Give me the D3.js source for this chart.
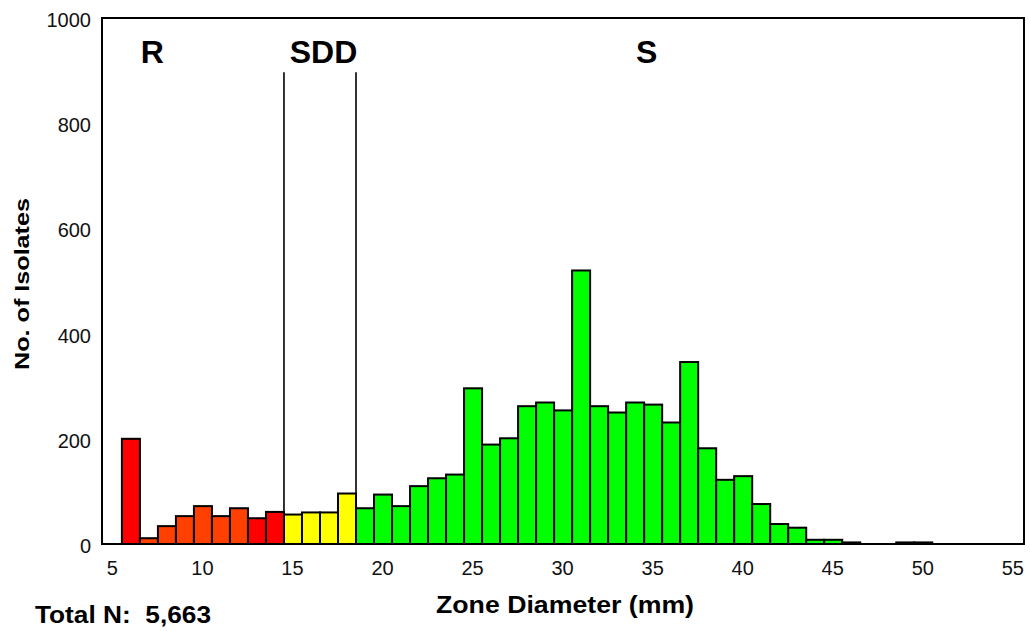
<!DOCTYPE html>
<html>
<head>
<meta charset="utf-8">
<script src="https://cdn.jsdelivr.net/npm/d3@7"></script>
<style>
  html, body { margin: 0; padding: 0; background: #fff; }
  svg { display: block; font-family: "Liberation Sans", Arial, sans-serif; }
</style>
</head>
<body>
<svg id="chart" width="1030" height="631"></svg>
<script>
// ---- data ----
const zones  = [6,7,8,9,10,11,12,13,14,15,16,17,18,19,20,21,22,23,24,25,26,27,28,29,30,
                31,32,33,34,35,36,37,38,39,40,41,42,43,44,45,46,47,48,49,50];
const counts = [200,11,34,53,72,53,68,49,61,56,60,60,96,68,94,72,110,125,132,296,189,201,262,269,254,
                520,262,250,269,265,231,346,182,122,129,76,38,31,8,8,3,0,0,3,3];
const xTicks = [5,10,15,20,25,30,35,40,45,50,55];
const yTicks = [0,200,400,600,800,1000];
const breakpoints = [14.5, 18.5];
const categoryLabels = ["R", "SDD", "S"];
const categoryPos = [7.25, 16.75, 34.7];
const totalN = "5,663";

// ---- layout ----
const svg = d3.select("#chart");
const mLeft = 102, mRight = 1024, mTop = 18, mBottom = 544;

const x = d3.scaleLinear().domain([4.45, 55.65]).range([mLeft, mRight]);
const y = d3.scaleLinear().domain([0, 1000]).range([mBottom, mTop]);

function barColor(z) {
  if (z === 6) return "#ff0000";
  if (z <= 12) return "#ff4000";
  if (z <= 14) return "#ff0000";
  if (z <= 18) return "#ffff00";
  return "#00ff00";
}

const data = zones.map((z, i) => ({ z, v: counts[i] })).filter(d => d.v > 0);

// bars
svg.append("g").selectAll("rect").data(data).join("rect")
  .attr("x", d => x(d.z - 0.5) + 1)
  .attr("y", d => y(d.v))
  .attr("width", d => x(d.z + 0.5) - x(d.z - 0.5))
  .attr("height", d => y(0) - y(d.v))
  .attr("fill", d => barColor(d.z))
  .attr("stroke", "#000")
  .attr("stroke-width", 2);

// breakpoint lines
svg.append("g").selectAll("line").data(breakpoints).join("line")
  .attr("x1", d => x(d) + 1).attr("x2", d => x(d) + 1)
  .attr("y1", y(897)).attr("y2", y(0))
  .attr("stroke", "#000").attr("stroke-width", 1.6);

// frame
svg.append("rect")
  .attr("x", mLeft).attr("y", mTop)
  .attr("width", mRight - mLeft).attr("height", mBottom - mTop)
  .attr("fill", "none").attr("stroke", "#000").attr("stroke-width", 2);

// x axis (labels only)
const xAxis = d3.axisBottom(x).tickValues(xTicks).tickSize(0).tickPadding(0).tickFormat(d3.format("d"));
const gx = svg.append("g").attr("transform", `translate(0,${mBottom})`).call(xAxis);
gx.select(".domain").remove();
gx.selectAll("text")
  .attr("y", 31).attr("dy", 0)
  .attr("font-size", 20).attr("fill", "#111")
  .attr("font-family", "Liberation Sans, Arial, sans-serif");

// y axis (labels only)
const yAxis = d3.axisLeft(y).tickValues(yTicks).tickSize(0).tickPadding(0).tickFormat(d3.format("d"));
const gy = svg.append("g").attr("transform", `translate(${mLeft},0)`).call(yAxis);
gy.select(".domain").remove();
gy.selectAll("text")
  .attr("x", -11).attr("dy", "0.42em")
  .attr("font-size", 20).attr("fill", "#111")
  .attr("font-family", "Liberation Sans, Arial, sans-serif");

// category labels
svg.append("g").selectAll("text").data(categoryLabels).join("text")
  .attr("x", (d, i) => x(categoryPos[i]))
  .attr("y", y(915))
  .attr("text-anchor", "middle")
  .attr("font-size", 32).attr("font-weight", "bold")
  .text(d => d);

// axis titles
svg.append("text")
  .attr("x", 565).attr("y", 613)
  .attr("text-anchor", "middle")
  .attr("font-size", 23).attr("font-weight", "bold")
  .attr("textLength", 258).attr("lengthAdjust", "spacingAndGlyphs")
  .text("Zone Diameter (mm)");

svg.append("text")
  .attr("transform", `translate(29,${(198 + 370) / 2}) rotate(-90)`)
  .attr("text-anchor", "middle")
  .attr("font-size", 20).attr("font-weight", "bold")
  .attr("textLength", 172).attr("lengthAdjust", "spacingAndGlyphs")
  .text("No. of Isolates");

svg.append("text")
  .attr("x", 35).attr("y", 623)
  .attr("font-size", 24).attr("font-weight", "bold")
  .style("white-space", "pre")
  .attr("textLength", 176).attr("lengthAdjust", "spacingAndGlyphs")
  .text("Total N:  " + totalN);
</script>
</body>
</html>
